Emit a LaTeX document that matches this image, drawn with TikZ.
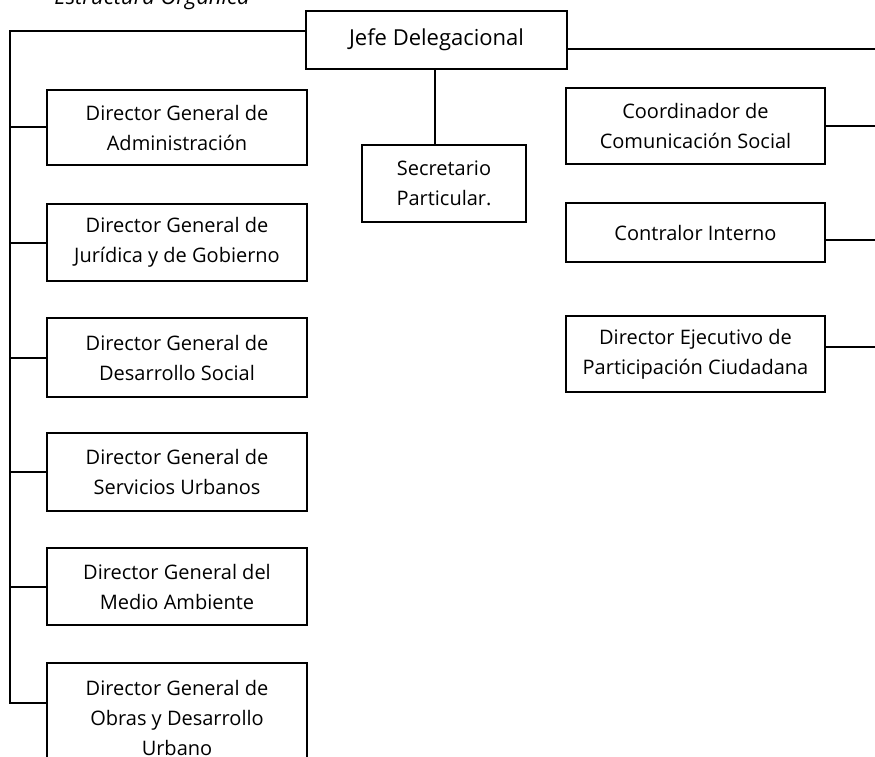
\documentclass[tikz,border=0pt]{standalone}
\usepackage{fontspec}
\setmainfont{Open Sans}
\begin{document}
\begin{tikzpicture}[x=1pt,y=-1pt,
  box/.style={draw,line width=2pt,align=center,inner sep=0pt,
    font=\fontsize{20}{30}\selectfont},
  lbox/.style={box,minimum width=260pt,minimum height=77pt},
  rbox/.style={box,minimum width=259pt},
  ln/.style={line width=2pt}]
\useasboundingbox (0,0) rectangle (875,757);
\clip (0,0) rectangle (875,757);
% cut-off title
\node[font=\itshape\fontsize{22}{24}\selectfont,anchor=base,inner sep=0pt] (title) at (152,5) {Estructura Orgánica};
% head
\node[box,minimum width=261pt,minimum height=58pt,font=\fontsize{22}{26}\selectfont] (jefe) at (436.5,40) {Jefe Delegacional};
% left column
\node[lbox,minimum height=75pt] (b1) at (177,127.5) {Director General de\\Administración};
\node[lbox] (b2) at (177,242.5) {Director General de\\Jurídica y de Gobierno};
\node[lbox,minimum height=79pt] (b3) at (177,357.5) {Director General de\\Desarrollo Social};
\node[lbox,minimum height=78pt] (b4) at (177,472) {Director General de\\Servicios Urbanos};
\node[lbox] (b5) at (177,586.5) {Director General del\\Medio Ambiente};
\node[lbox,minimum height=110pt] (b6) at (177,718) {Director General de\\Obras y Desarrollo\\Urbano};
% secretario
\node[box,minimum width=164pt,minimum height=77pt] (sec) at (444,183.5) {Secretario\\Particular.};
% right column
\node[rbox,minimum height=76pt] (coord) at (695.5,126) {Coordinador de\\Comunicación Social};
\node[rbox,minimum height=59pt] (contr) at (695.5,232.5) {Contralor Interno};
\node[rbox,minimum height=76pt] (dej) at (695.5,354) {Director Ejecutivo de\\Participación Ciudadana};
% left trunk
\coordinate (lt) at (10,31);
\coordinate (lb) at (10,703);
\draw[ln] (jefe.west |- lt) -- (lt) -- (lb) -- (lb -| b6.west);
\foreach \b in {b1,b2,b3,b4,b5}{
  \draw[ln] (\b.west) -- (\b.west -| lt);
}
% right lines
\coordinate (rt) at (875,49);
\draw[ln] (jefe.east |- rt) -- (rt);
\coordinate (r1) at (875,126);
\coordinate (r2) at (875,240);
\coordinate (r3) at (875,347);
\draw[ln] (coord.east |- r1) -- (r1);
\draw[ln] (contr.east |- r2) -- (r2);
\draw[ln] (dej.east |- r3) -- (r3);
% secretario link
\draw[ln] (jefe.south -| 435,0) -- (sec.north -| 435,0);
\end{tikzpicture}
\end{document}
